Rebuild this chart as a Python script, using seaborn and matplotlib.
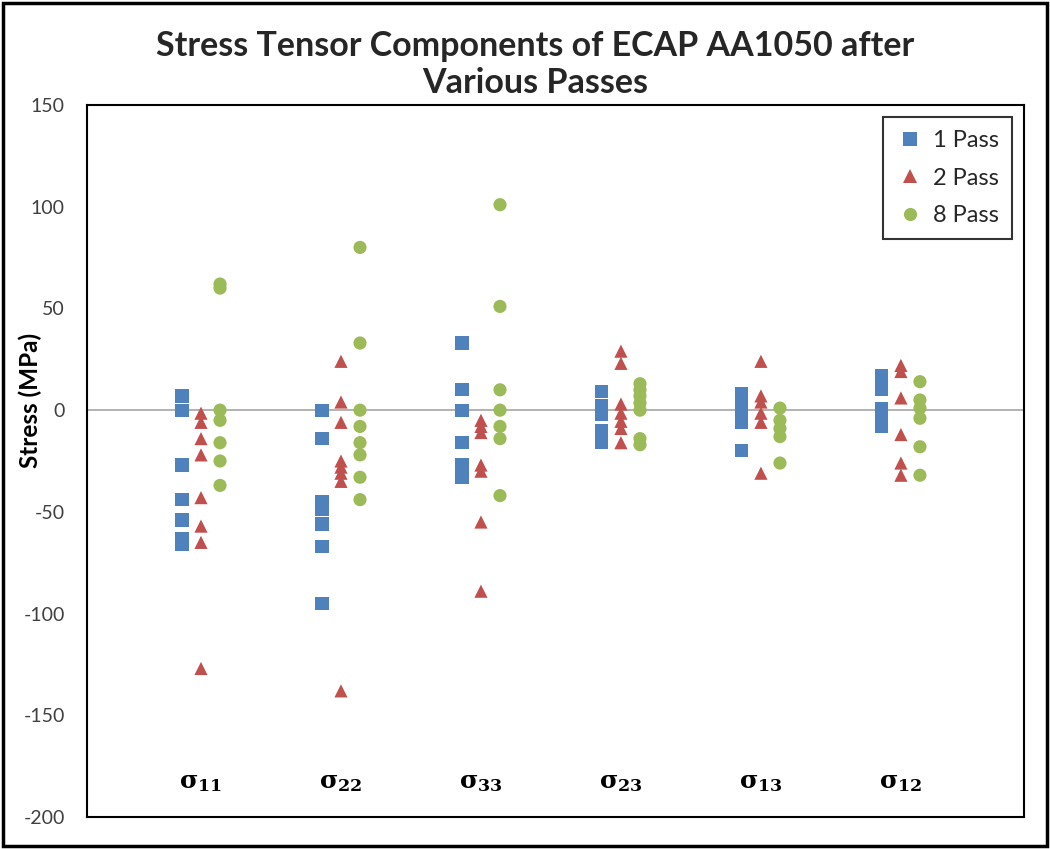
import numpy as np
import pandas as pd
import seaborn as sns
import matplotlib.pyplot as plt
from matplotlib.patches import Rectangle

# stress tensor components, one list per component (MPa)
components = ["11", "22", "33", "23", "13", "12"]
passes = ["1 Pass", "2 Pass", "8 Pass"]

pass1 = [
    [7, 0, -27, -44, -54, -63, -66],
    [0, -14, -45, -49, -56, -67, -95],
    [33, 10, 0, -16, -27, -30, -33],
    [9, 2, -2, -10, -16],
    [8, 3.5, -1.5, -6, -20],
    [17, 14, 10, 1, -4, -8],
]
pass2 = [
    [-1.5, -6, -14, -22, -43, -57, -65, -127],
    [24, 4, -6, -25, -28, -31, -35, -138],
    [-5, -8, -11, -27, -30, -55, -89],
    [29, 23, 3, -1.5, -5.5, -9, -16],
    [24, 7, 4, -1.5, -6, -31],
    [22, 19, 6, -12, -26, -32],
]
pass8 = [
    [62, 60, 0, -5, -16, -25, -37],
    [80, 33, 0, -8, -16, -22, -33, -44],
    [101, 51, 10, 0, -8, -14, -42],
    [13, 10, 7, 3.5, 0, -14, -17],
    [1, -5, -9, -13, -26],
    [14, 5, 1, -4, -18, -32],
]

colors = {"1 Pass": "#4F81BD", "2 Pass": "#C0504D", "8 Pass": "#9BBB59"}
markers = {"1 Pass": "s", "2 Pass": "^", "8 Pass": "o"}
offsets = {"1 Pass": -0.136, "2 Pass": 0.0, "8 Pass": 0.136}

rows = []
for name, series in zip(passes, [pass1, pass2, pass8]):
    for i, vals in enumerate(series):
        for v in vals:
            rows.append({"comp": i, "pass": name, "stress": v})
df = pd.DataFrame(rows)
df["x"] = df["comp"] + df["pass"].map(offsets)

sns.set_theme(style="white")
plt.rcParams["font.family"] = ["Lato", "DejaVu Sans"]
plt.rcParams["mathtext.fontset"] = "dejavuserif"
plt.rcParams["axes.unicode_minus"] = False

fig = plt.figure(figsize=(10.5, 8.49), dpi=100)
ax = fig.add_axes([0.0829, 0.0377, 0.8923, 0.8386])

ax.axhline(0, color="#a6a6a6", lw=1.2, zorder=1)
sns.scatterplot(data=df, x="x", y="stress", hue="pass", style="pass",
                palette=colors, markers=markers, s=90, linewidth=0,
                ax=ax, zorder=3)

ax.set_xlim(-0.814, 5.879)
ax.set_ylim(-200, 150)
ax.set_yticks(np.arange(-200, 151, 50))
ax.set_xticks([])
ax.set_xlabel("")
ax.set_ylabel("Stress (MPa)", fontsize=17.5, fontweight="bold", color="black")
ax.yaxis.set_label_coords(-0.048, 0.585)
ax.tick_params(axis="y", labelsize=14, labelcolor="#404040", length=0, pad=16)

for sp in ax.spines.values():
    sp.set_color("black")
    sp.set_linewidth(1.5)

for i, c in enumerate(components):
    ax.text(i, -183, r"$\mathbf{\sigma_{%s}}$" % c, ha="center", va="center",
            fontsize=18, color="black")

leg = ax.legend(loc="upper right", bbox_to_anchor=(0.987, 0.983), borderaxespad=0,
                fontsize=17, frameon=True, fancybox=False, labelspacing=0.7,
                handletextpad=0.35, handlelength=1.2, borderpad=0.55)
leg.get_frame().set_edgecolor("black")
leg.get_frame().set_linewidth(1.5)

fig.text(0.51, 0.924, "Stress Tensor Components of ECAP AA1050 after\nVarious Passes",
         ha="center", va="center", fontsize=24.5, fontweight="bold", linespacing=1.2)

fig.patches.append(Rectangle((0.003, 0.004), 0.994, 0.992, transform=fig.transFigure,
                             fill=False, lw=2.5, ec="black"))

fig.savefig("out.png", dpi=100)
